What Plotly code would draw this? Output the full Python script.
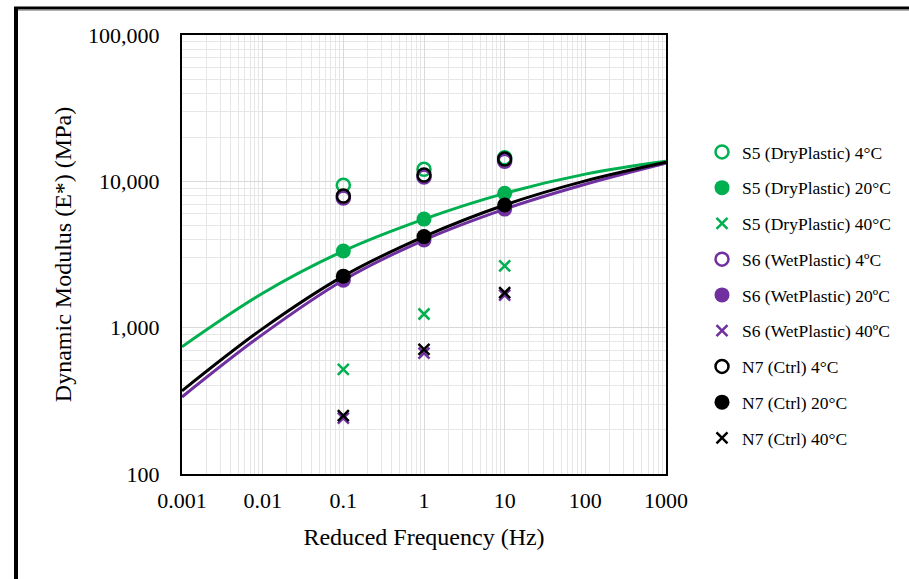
import plotly.graph_objects as go

# Test frequencies (Hz)
freq = [0.1, 1, 10]

# Measured dynamic modulus |E*| (MPa)
s5_4c = [9400, 12080, 14500]
s5_20c = [3340, 5520, 8280]
s5_40c = [519, 1240, 2640]
s6_4c = [7700, 10700, 13700]
s6_20c = [2110, 3970, 6460]
s6_40c = [241, 670, 1670]
n7_4c = [7940, 11040, 14200]
n7_20c = [2250, 4190, 6890]
n7_40c = [251, 711, 1733]

# Master curves at 20 °C reference temperature
curve_freq = [0.001, 0.01, 0.1, 1, 10, 100, 1000]
s5_curve = [741, 1720, 3340, 5520, 8280, 11200, 13700]
s6_curve = [336, 900, 2110, 3970, 6460, 9550, 13300]
n7_curve = [370, 985, 2250, 4190, 6890, 10070, 13500]

x_ticks = [0.001, 0.01, 0.1, 1, 10, 100, 1000]
x_tick_text = ["0.001", "0.01", "0.1", "1", "10", "100", "1000"]
y_ticks = [100, 1000, 10000, 100000]
y_tick_text = ["100", "1,000", "10,000", "100,000"]

GREEN = "#00B050"
PURPLE = "#7030A0"
BLACK = "#000000"
FONT = "Liberation Serif"

W, H = 909, 579
L, R, T, B = 182, 243, 35, 105
PW, PH = W - L - R, H - T - B


def px(x):
    return (x - L) / PW


def py(y):
    return (H - B - y) / PH


fig = go.Figure()

series = [
    ("S5 (DryPlastic) 4°C", s5_4c, GREEN, "open"),
    ("S5 (DryPlastic) 20°C", s5_20c, GREEN, "fill"),
    ("S5 (DryPlastic) 40°C", s5_40c, GREEN, "x"),
    ("S6 (WetPlastic) 4ºC", s6_4c, PURPLE, "open"),
    ("S6 (WetPlastic) 20ºC", s6_20c, PURPLE, "fill"),
    ("S6 (WetPlastic) 40ºC", s6_40c, PURPLE, "x"),
    ("N7 (Ctrl) 4°C", n7_4c, BLACK, "open"),
    ("N7 (Ctrl) 20°C", n7_20c, BLACK, "fill"),
    ("N7 (Ctrl) 40°C", n7_40c, BLACK, "x"),
]

curves = {GREEN: s5_curve, PURPLE: s6_curve, BLACK: n7_curve}

for name, vals, color, kind in series:
    if kind == "fill":
        fig.add_trace(go.Scatter(
            x=curve_freq, y=curves[color], mode="lines",
            line=dict(color=color, width=3, shape="spline"),
            showlegend=False, hoverinfo="skip"))
        marker = dict(symbol="circle", size=15, color=color)
    elif kind == "open":
        marker = dict(symbol="circle-open", size=13, color=color,
                      line=dict(width=2.5, color=color))
    else:
        marker = dict(symbol="x-thin", size=11, color=color,
                      line=dict(width=2.5, color=color))
    fig.add_trace(go.Scatter(
        x=freq, y=vals, mode="markers", name=name, marker=marker,
        legendgroup=name))

axis_common = dict(
    type="log", showline=True, linecolor="black", linewidth=2, mirror=True,
    showgrid=True, gridcolor="#d9d9d9", gridwidth=1,
    ticks="outside", tickcolor="rgba(0,0,0,0)",
    tickfont=dict(family=FONT, size=22, color="black"),
    zeroline=False,
)

fig.update_xaxes(
    **axis_common, range=[-3, 3], tickvals=x_ticks, ticktext=x_tick_text,
    ticklen=6,
    minor=dict(dtick="D1", showgrid=True, gridcolor="#e6e6e6", gridwidth=1),
    title=dict(text="Reduced Frequency (Hz)",
               font=dict(family=FONT, size=24, color="black"), standoff=16),
)
fig.update_yaxes(
    **axis_common, range=[2, 5], tickvals=y_ticks, ticktext=y_tick_text,
    ticklen=16,
    minor=dict(dtick="D1", showgrid=True, gridcolor="#e6e6e6", gridwidth=1),
    title=dict(text="Dynamic Modulus (E*) (MPa)",
               font=dict(family=FONT, size=24, color="black"), standoff=10),
)

# Outer frame: left and top edges
fig.add_shape(type="line", xref="paper", yref="paper",
              x0=px(16), x1=px(16), y0=py(7), y1=py(H + 5),
              line=dict(color="black", width=4))
fig.add_shape(type="line", xref="paper", yref="paper",
              x0=px(14), x1=px(W + 5), y0=py(8), y1=py(8),
              line=dict(color="black", width=3))
fig.add_shape(type="line", xref="paper", yref="paper",
              x0=px(18), x1=px(W + 5), y0=py(10.5), y1=py(10.5),
              line=dict(color="#b0b0b0", width=1))

fig.update_layout(
    width=W, height=H,
    margin=dict(l=L, r=R, t=T, b=B, autoexpand=False),
    paper_bgcolor="white", plot_bgcolor="white",
    font=dict(family=FONT, color="black"),
    legend=dict(
        x=px(702), y=py(134), xanchor="left", yanchor="top",
        font=dict(family=FONT, size=17.5, color="black"),
        tracegroupgap=10, itemwidth=30, bgcolor="rgba(0,0,0,0)",
    ),
)

fig.write_html("out.html")
